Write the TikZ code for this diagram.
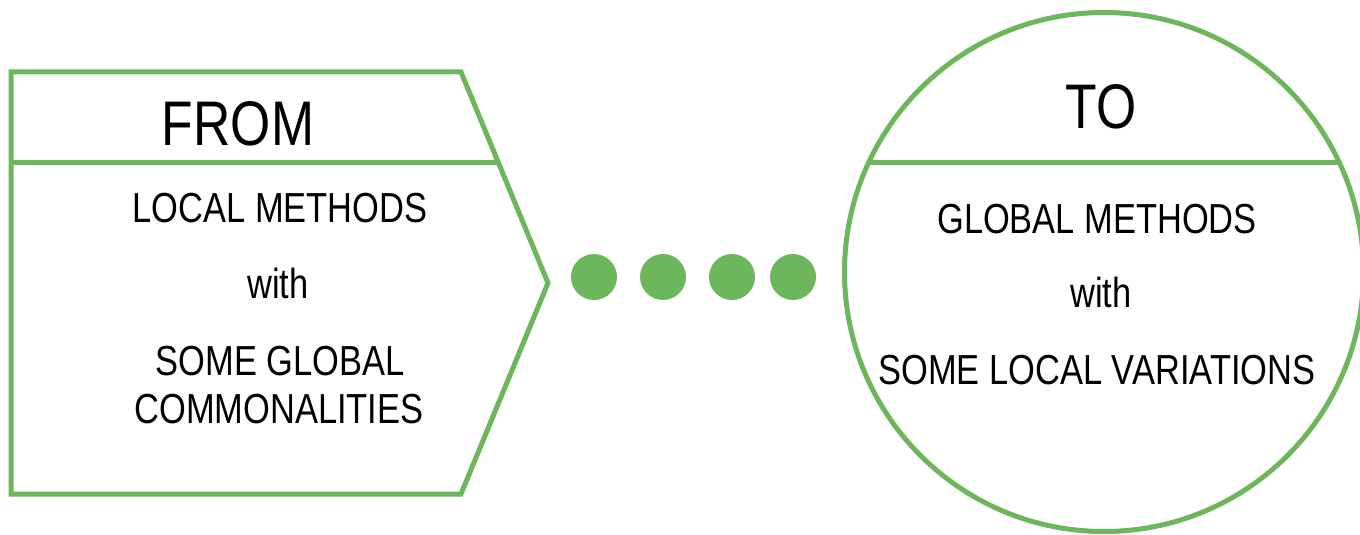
\documentclass[tikz,border=0pt]{standalone}
\usepackage{fontspec}
\setmainfont[FakeStretch=0.82]{Liberation Sans}
\definecolor{lgreen}{RGB}{108,182,92}
\begin{document}
\begin{tikzpicture}[x=1pt,y=-1pt,
  outline/.style={draw=lgreen,line width=5pt},
  dotc/.style={fill=lgreen},
  big/.style={font=\fontsize{63}{70}\selectfont,anchor=base,inner sep=0},
  body/.style={font=\fontsize{42}{48}\selectfont,anchor=base,inner sep=0}]
\useasboundingbox (0,0) rectangle (1360,535);
% left shape
\coordinate (tl) at (11,72);
\coordinate (tr) at (461,72);
\coordinate (tip) at (548,283);
\coordinate (br) at (461,494);
\coordinate (bl) at (11,494);
\coordinate (dl) at (11,162);
\coordinate (dr) at (498,162);
\draw[outline,line join=miter] (tl) -- (tr) -- (tip) -- (br) -- (bl) -- cycle;
\draw[outline] (dl) -- (dr);
% right circle
\node[outline,circle,minimum size=519pt,inner sep=0] (circ) at (1104,272) {};
\coordinate (cl) at (868,162);
\coordinate (cr) at (1340,162);
\draw[outline] (cl) -- (cr);
% dots
\fill[dotc] (594,277) circle (23);
\fill[dotc] (663,277) circle (23);
\fill[dotc] (732,277) circle (23);
\fill[dotc] (793,277) circle (23);
% texts
\node[big] (from) at (238,145) {FROM};
\node[body] (l1) at (280,222) {LOCAL METHODS};
\node[body] (l2) at (278,298) {with};
\node[body] (l3) at (280,375) {SOME GLOBAL};
\node[body] (l4) at (279,423) {COMMONALITIES};
\node[big] (to) at (1101,128) {TO};
\node[body] (r1) at (1097,233) {GLOBAL METHODS};
\node[body] (r2) at (1101,307) {with};
\node[body] (r3) at (1097,384) {SOME LOCAL VARIATIONS};
\end{tikzpicture}
\end{document}
